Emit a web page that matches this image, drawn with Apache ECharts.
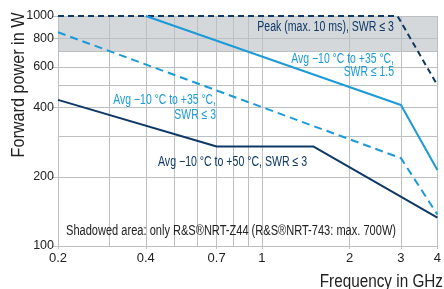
<!DOCTYPE html>
<html><head><meta charset="utf-8">
<script src="https://cdn.jsdelivr.net/npm/echarts@6/dist/echarts.min.js"></script>
<style>html,body{margin:0;padding:0;background:#fff}#c{width:444px;height:289px}</style>
</head><body><div id="c"></div>
<script>
const xTickLabels = [0.2, 0.4, 0.7, 1, 2, 3, 4];
const yTickLabels = [100, 200, 400, 600, 800, 1000];
const xGrid = [0.2, 0.3, 0.4, 0.5, 0.6, 0.7, 0.8, 0.9, 1, 2, 3, 4];
const yGrid = [100, 200, 300, 400, 500, 600, 700, 800, 1000];
const shadeRange = [700, 1000];
const peakSwr3 = [[0.2, 1000], [2.92, 1000], [4, 500]];
const avg35Swr15 = [[0.4, 1000], [3, 410], [4, 214]];
const avg35Swr3 = [[0.2, 850], [3, 241], [4, 137]];
const avg50Swr3 = [[0.2, 432], [0.7, 271], [1.5, 271], [4, 133]];

const NAVY = '#0e3866', BLUE = '#1b9ad8', GRID = '#bcc0c3';
const FONT = '"Liberation Sans",Arial,sans-serif';
const chart = echarts.init(document.getElementById('c'));
const fmt = v => String(+(+v).toPrecision(3));
const txt = (x, y, text, o) => Object.assign({type: 'text', x: x, y: y, z: 100, scaleX: o.sx || 0.745,
  style: {text: text, fontFamily: FONT, fontSize: o.fs || 14, lineHeight: o.lh, fill: o.fill || '#222',
    align: o.align || 'left', verticalAlign: 'middle'}}, o.extra || {});
chart.setOption({
  animation: false,
  grid: {left: 58, right: 5, top: 16, bottom: 43},
  xAxis: {
    type: 'log', logBase: 10, min: 0.2, max: 4,
    axisLine: {show: false}, splitLine: {show: false}, minorTick: {show: false},
    axisTick: {show: true, customValues: xTickLabels, length: 3, lineStyle: {color: GRID}},
    axisLabel: {customValues: xTickLabels, formatter: fmt, fontFamily: FONT, fontSize: 13, color: '#222', margin: 6}
  },
  yAxis: {
    type: 'log', logBase: 10, min: 100, max: 1000,
    axisLine: {show: false}, splitLine: {show: false},
    axisTick: {show: true, customValues: yTickLabels, length: 5, lineStyle: {color: GRID}},
    axisLabel: {customValues: yTickLabels, formatter: fmt, fontFamily: FONT, fontSize: 12.5, color: '#222', margin: 4}
  },
  series: [
    {type: 'line', data: [], z: 1, silent: true,
     markArea: {silent: true, itemStyle: {color: '#d5d8da'}, data: [[{yAxis: shadeRange[0]}, {yAxis: shadeRange[1]}]]}},
    {type: 'line', data: [], z: 2, silent: true,
     markLine: {silent: true, symbol: 'none', animation: false, label: {show: false},
       lineStyle: {color: GRID, width: 1, type: 'solid'},
       data: xGrid.map(v => ({xAxis: v})).concat(yGrid.map(v => ({yAxis: v})))}},
    {type: 'line', data: peakSwr3, symbol: 'none', z: 5, clip: false,
     lineStyle: {color: NAVY, width: 2, type: [6, 4]}},
    {type: 'line', data: avg35Swr15, symbol: 'none', z: 5,
     lineStyle: {color: BLUE, width: 2}},
    {type: 'line', data: avg35Swr3, symbol: 'none', z: 5,
     lineStyle: {color: BLUE, width: 2, type: [8, 5]}},
    {type: 'line', data: avg50Swr3, symbol: 'none', z: 5,
     lineStyle: {color: NAVY, width: 2}}
  ],
  graphic: [
    txt(19, 85, 'Forward power in W', {fs: 18, sx: 0.9, align: 'center', extra: {rotation: Math.PI / 2}}),
    txt(443, 282, 'Frequency in GHz', {fs: 18, sx: 0.85, align: 'right'}),
    txt(394, 27, 'Peak (max. 10 ms), SWR ≤ 3', {fill: NAVY, align: 'right', sx: 0.755}),
    txt(394, 65.5, 'Avg −10 °C to +35 °C,\nSWR ≤ 1.5', {fill: BLUE, align: 'right', lh: 13.5}),
    txt(216, 107.5, 'Avg −10 °C to +35 °C,\nSWR ≤ 3', {fill: BLUE, align: 'right', lh: 15}),
    txt(158, 162, 'Avg −10 °C to +50 °C, SWR ≤ 3', {fill: NAVY, sx: 0.755}),
    txt(66, 231, 'Shadowed area: only R&S®NRT-Z44 (R&S®NRT-743: max. 700W)', {sx: 0.79})
  ]
});
</script></body></html>
